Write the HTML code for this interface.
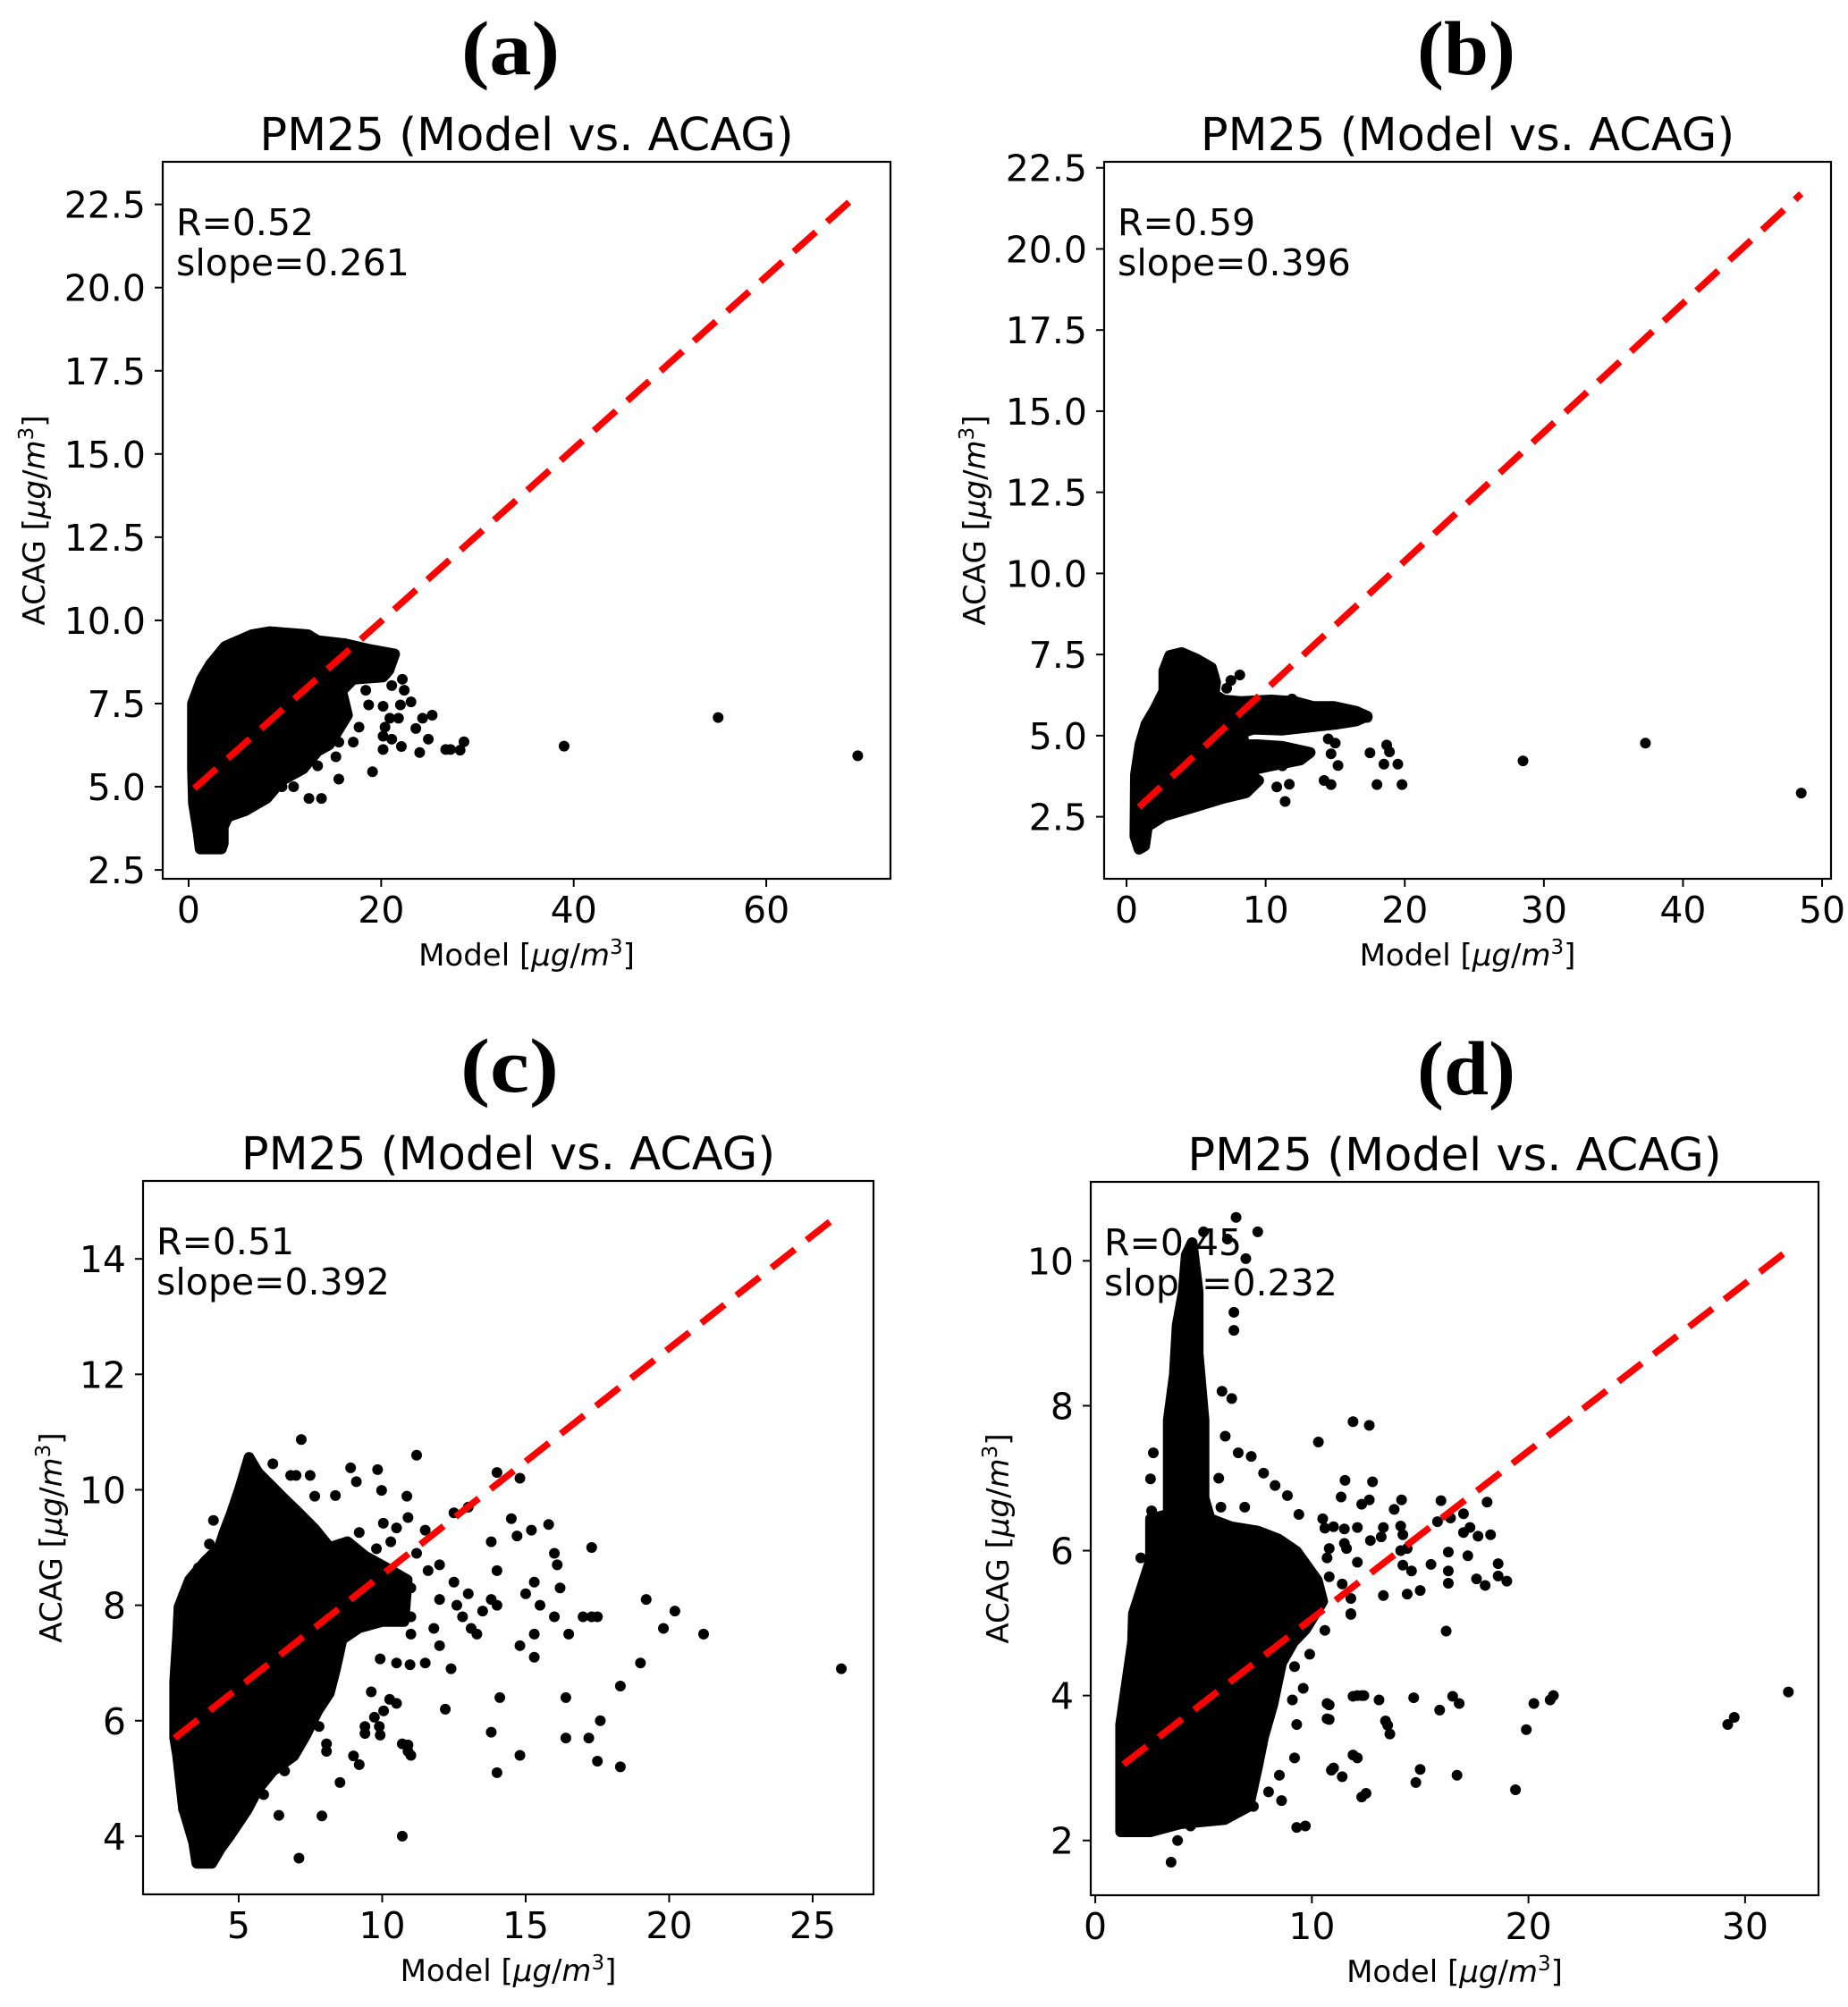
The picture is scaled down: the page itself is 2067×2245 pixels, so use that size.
<!DOCTYPE html>
<html><head><meta charset="utf-8"><style>
html,body{margin:0;padding:0;background:#fff;}
svg{display:block;font-family:"DejaVu Sans","Liberation Sans",sans-serif;}
</style></head>
<body>
<svg id="fig" width="2067" height="2245" viewBox="0 0 2067 2245" xmlns="http://www.w3.org/2000/svg"></svg>
<script>
// ---------- data (data coordinates) ----------
const panelLetters = ["(a)","(b)","(c)","(d)"];
const rValues = ["0.52","0.59","0.51","0.45"];
const slopeValues = ["0.261","0.396","0.392","0.232"];
const xTicksA = [0,20,40,60];
const yTicksA = [2.5,5.0,7.5,10.0,12.5,15.0,17.5,20.0,22.5];
const xTicksB = [0,10,20,30,40,50];
const yTicksB = [2.5,5.0,7.5,10.0,12.5,15.0,17.5,20.0,22.5];
const xTicksC = [5,10,15,20,25];
const yTicksC = [4,6,8,10,12,14];
const xTicksD = [0,10,20,30];
const yTicksD = [2,4,6,8,10];
const fitA = [[0.6,4.95],[69.5,22.8]];
const fitB = [[0.9,2.8],[48.5,21.7]];
const fitC = [[2.77,5.7],[26,14.8]];
const fitD = [[1.3,3.05],[32,10.15]];
const cloudA = [[0.5,4.5],[0.4,5.54],[0.4,7.5],[1.33,8.23],[2.26,8.68],[3.8,9.22],[6.6,9.57],[8.45,9.66],[12.4,9.57],[13.4,9.39],[16.2,9.3],[18.9,9.12],[21.4,8.99],[20.8,8.5],[20.2,8.3],[17.1,8.23],[15.9,7.88],[16.5,7.15],[14.6,6.26],[13.4,6.07],[11.9,5.54],[9.7,5.19],[8.1,4.65],[5.9,4.28],[4.1,4.1],[3.6,3.8],[3.6,3.3],[3.4,3.13],[1.2,3.13],[1.0,3.6]];
const pointsA = [[22.2,8.23],[21.1,8.04],[22.4,7.9],[18.4,7.9],[23.1,7.55],[22.0,7.46],[20.2,7.42],[18.7,7.46],[25.3,7.15],[24.3,7.06],[20.9,7.06],[21.8,7.06],[17.7,6.79],[20.4,6.79],[23.6,6.75],[24.9,6.43],[20.2,6.52],[21.1,6.43],[17.1,6.34],[15.6,6.34],[22.1,6.21],[20.2,6.12],[24.0,6.03],[26.7,6.12],[15.3,5.9],[13.4,5.63],[19.1,5.45],[15.6,5.23],[10.9,5.0],[9.7,5.0],[12.5,4.65],[13.8,4.65],[27.2,6.12],[28.2,6.1],[28.6,6.35],[39,6.22],[55,7.08],[69.5,5.93]];
const cloudB = [[0.6,1.9],[0.64,3.79],[0.96,4.72],[1.39,5.35],[2.04,5.82],[2.68,6.37],[2.68,7.0],[3.1,7.47],[3.96,7.56],[5.0,7.37],[6.1,7.1],[6.4,6.65],[6.3,6.27],[6.96,6.1],[8.2,6.05],[10.4,6.1],[12.1,6.05],[13.4,5.9],[14.9,5.9],[16.5,5.75],[17.3,5.6],[16.5,5.45],[15.0,5.35],[11.2,5.17],[9.1,5.2],[7.6,4.99],[7.9,4.72],[9.4,4.72],[11.2,4.67],[13.2,4.48],[12.5,4.25],[10.4,4.07],[8.46,3.89],[9.5,3.62],[8.6,3.24],[6.96,3.07],[4.8,2.79],[2.68,2.52],[1.5,2.2],[1.3,1.6],[0.9,1.5]];
const pointsB = [[8.14,6.87],[7.5,6.7],[7.2,6.46],[11.9,6.13],[14.7,5.9],[15,5.86],[10.0,5.3],[11.5,5.3],[14.5,4.9],[14.7,4.44],[13.1,4.44],[11.2,4.07],[14.2,3.62],[10.8,3.42],[11.7,3.5],[11.4,2.97],[8.4,4.9],[15,4.77],[15.2,4.08],[17.5,4.47],[18.7,4.71],[18.9,4.5],[18.5,4.12],[19.5,4.12],[18,3.49],[19.8,3.49],[14.7,3.49],[17.3,5.56],[28.5,4.22],[37.3,4.77],[48.5,3.23]];
const cloudC = [[2.77,5.7],[2.77,6.68],[2.87,7.46],[2.92,7.97],[3.29,8.44],[3.81,8.75],[4.32,9.0],[4.5,9.27],[4.74,9.58],[5.05,10.04],[5.36,10.56],[5.67,10.3],[6.09,10.09],[6.61,9.83],[7.03,9.63],[7.65,9.32],[8.17,9.0],[8.79,9.1],[9.41,8.85],[10.14,8.65],[10.87,8.44],[10.76,7.72],[10.0,7.72],[9.2,7.61],[8.6,7.41],[8.37,6.89],[8.16,6.48],[7.75,6.17],[7.34,5.75],[6.92,5.39],[6.19,5.13],[5.68,4.82],[5.3,4.46],[4.68,4.0],[4.37,3.79],[4.06,3.53],[3.54,3.53],[3.43,3.89],[3.12,4.41],[3.08,4.46],[2.87,5.4]];
const pointsC = [[7.18,10.87],[4.12,9.47],[3.98,9.06],[3.6,8.65],[3.08,8.18],[6.19,10.45],[6.81,10.25],[7.0,10.25],[7.49,10.25],[8.9,10.38],[9.84,10.35],[9.1,10.14],[9.98,9.99],[7.65,9.89],[8.37,9.9],[10.86,9.89],[10.9,9.52],[10.04,9.42],[10.5,9.34],[10.3,9.1],[9.2,9.26],[9.8,8.98],[9.93,7.07],[10.97,6.97],[9.62,6.5],[10.26,6.37],[10.05,6.17],[9.73,6.06],[9.4,5.9],[9.9,5.9],[9.4,5.78],[9.93,5.75],[8.06,5.47],[9.0,5.39],[9.2,5.24],[8.53,4.93],[6.4,4.36],[7.9,4.35],[10.9,5.58],[10.9,5.47],[7.8,5.9],[8.06,5.6],[6.6,5.13],[5.87,4.72],[7.1,3.62],[10.7,4.0],
 [11.2,10.6],[14,10.3],[14.8,10.2],[12.5,9.6],[13,9.7],[11.5,9.3],[12,8.7],[12.5,8.4],[13,8.2],[13.5,7.9],[11,7.8],[11,8.3],[14,8.6],[14.5,9.5],[15.2,9.3],[15.8,9.4],[16,8.9],[16.1,8.7],[14.7,9.2],[13.8,9.1],[15.3,8.4],[15,8.2],[15.5,8.0],[16.2,8.3],[16,7.8],[16.5,7.5],[17,7.8],[17.3,7.8],[17.5,7.8],[17.3,9.0],[13.8,8.1],[14,8.0],[13.3,7.5],[12.8,7.8],[12,7.3],[11,7.5],[11.5,7.0],[10.5,7.0],[10.5,6.3],[10.7,5.6],[11,5.4],[12.2,6.2],[12.4,6.9],[14.8,7.3],[15.3,7.5],[15.3,7.1],[14.1,6.4],[13.8,5.8],[14,5.1],[14.8,5.4],[16.4,6.4],[16.4,5.7],[17.2,5.7],[17.5,5.3],[17.6,6.0],[18.3,6.6],[18.3,5.2],[19,7.0],[19.2,8.1],[19.8,7.6],[20.2,7.9],[21.2,7.5],[26,6.9],[11.2,8.9],[11.6,8.6],[12.0,8.1],[11.8,7.6],[12.6,8.0],[13.1,7.6]];
const cloudD = [[1.17,2.12],[1.17,3.6],[1.72,4.74],[1.76,5.13],[2.55,5.87],[2.55,6.44],[3.37,6.5],[3.37,7.8],[3.65,8.43],[3.78,9.11],[4.06,9.57],[4.2,10.08],[4.47,10.25],[4.75,9.57],[4.75,8.72],[5.02,7.8],[5.02,6.73],[5.3,6.44],[6.26,6.33],[7.5,6.27],[8.46,6.16],[9.29,5.99],[10.25,5.59],[10.5,5.3],[9.7,4.91],[9.15,4.74],[8.6,4.45],[8.2,3.88],[7.77,3.43],[7.5,3.03],[7.09,2.47],[5.98,2.29],[3.92,2.23],[2.55,2.12]];
const pointsD = [[3.5,1.7],[3.8,2.0],[4.4,2.2],[9.7,2.2],[5,10.4],[6.5,10.6],[7.5,10.4],[6.1,10.3],[6.95,10.03],[6.4,9.29],[6.4,9.04],[5.85,8.2],[6.3,8.1],[2.68,7.35],[2.55,6.99],[2.6,6.55],[2.1,5.9],[1.88,5.1],[7.77,7.07],[8.3,6.9],[8.87,6.76],[7.2,7.3],[6.0,7.58],[6.6,7.35],[5.7,7.0],[5.8,6.6],[6.9,6.6],[9.4,6.5],[10.5,6.44],[11.0,6.33],[11.5,6.1],[11.4,5.54],[11.8,5.13],[10.6,4.9],[9.9,4.57],[9.2,4.4],[9.6,4.1],[9.1,3.94],[9.3,3.6],[9.2,3.14],[8.5,2.9],[8.0,2.67],[8.6,2.55],[9.3,2.18],[10.9,2.97],[11.4,2.88],[12.1,3.14],[10.8,3.87],[10.8,3.67],[12.1,4.0],[12.4,4.0],[12.3,2.6],[7.3,2.47],[10.3,7.5],
 [11.9,7.78],[12.65,7.73],[11.53,6.97],[12.8,6.95],[11.35,6.74],[12.65,6.7],[12.3,6.64],[14.14,6.7],[13.8,6.57],[15.96,6.69],[18.09,6.67],[16.4,6.45],[17.0,6.51],[15.8,6.4],[10.6,6.31],[11.5,6.3],[12.1,6.32],[13.3,6.32],[14.1,6.34],[17.3,6.32],[17.0,6.25],[17.67,6.2],[18.25,6.22],[13.2,6.19],[12.7,6.14],[14.2,6.22],[11.6,6.03],[10.8,6.03],[14.4,6.03],[14.1,6.0],[16.3,5.98],[17.2,5.93],[12.1,5.84],[10.7,5.9],[14.2,5.8],[14.6,5.72],[15.5,5.81],[18.6,5.82],[16.3,5.72],[18.6,5.65],[19.0,5.58],[17.6,5.61],[18.0,5.52],[16.3,5.55],[10.8,5.64],[11.8,5.34],[13.3,5.38],[14.4,5.4],[15.0,5.45],[11.8,5.12],[16.2,4.89],
 [10.7,3.89],[11.9,3.99],[12.3,4.0],[13.1,3.94],[14.7,3.97],[16.5,3.99],[16.8,3.89],[15.9,3.8],[10.7,3.68],[13.4,3.65],[13.5,3.59],[13.6,3.47],[20.25,3.89],[21.0,3.94],[21.15,4.0],[19.9,3.53],[11.9,3.18],[11.0,3.0],[15.0,2.98],[14.8,2.8],[16.7,2.9],[19.4,2.7],[12.5,2.65],[29.2,3.6],[29.5,3.7],[32,4.05]];

// ---------- layout ----------
const panels = [
 {box:[182,181,996,983], xr:[-2.69,72.9], yr:[2.234,23.78], xt:xTicksA, yt:yTicksA, dec:1, fit:fitA, cloud:cloudA, pts:pointsA, ylx:38, lab:83, lx:571},
 {box:[1235,181,2048,983], xr:[-1.61,50.64], yr:[0.588,22.685], xt:xTicksB, yt:yTicksB, dec:1, fit:fitB, cloud:cloudB, pts:pointsB, ylx:1090, lab:83, lx:1640},
 {box:[160,1321,977,2119], xr:[1.667,27.12], yr:[2.992,15.35], xt:xTicksC, yt:yTicksC, dec:0, fit:fitC, cloud:cloudC, pts:pointsC, ylx:57, lab:1221, lx:570},
 {box:[1220,1322,2034,2120], xr:[-0.21,33.39], yr:[1.244,11.09], xt:xTicksD, yt:yTicksD, dec:0, fit:fitD, cloud:cloudD, pts:pointsD, ylx:1116, lab:1224, lx:1640}
];
const NS="http://www.w3.org/2000/svg";
const svg=document.getElementById('fig');
function mk(tag,attrs,parent,text){const e=document.createElementNS(NS,tag);for(const k in attrs)e.setAttribute(k,attrs[k]);if(text!==undefined)e.textContent=text;(parent||svg).appendChild(e);return e;}
const unitHTML='[<tspan font-style="italic">μg</tspan>/<tspan font-style="italic">m</tspan><tspan font-size="23" dy="-13">3</tspan><tspan dy="13">]</tspan>';

panels.forEach((p,i)=>{
  const [L,T,R,B]=p.box;
  const sx=v=>L+(v-p.xr[0])/(p.xr[1]-p.xr[0])*(R-L);
  const sy=v=>B-(v-p.yr[0])/(p.yr[1]-p.yr[0])*(B-T);
  const g=mk('g',{});
  
  
  const cx=(L+R)/2;
  const pl=mk('text',{x:p.lx,y:p.lab,'text-anchor':'middle','font-family':'"Liberation Serif",serif','font-weight':'bold','font-size':86,textLength:110,lengthAdjust:'spacingAndGlyphs'},g,panelLetters[i]);
  
  
  const tt=mk('text',{x:cx,y:T-13,'text-anchor':'middle','font-size':51},g,'PM25 (Model vs. ACAG)');
  
  
  const cp=mk('clipPath',{id:'cp'+i},g);mk('rect',{x:L,y:T,width:R-L,height:B-T},cp);
  const plot=mk('g',{'clip-path':'url(#cp'+i+')'},g);
  const cl=mk('polygon',{points:p.cloud.map(d=>sx(d[0])+','+sy(d[1])).join(' '),fill:'#000',stroke:'#000','stroke-width':12,'stroke-linejoin':'round'},plot);
  
  
  p.pts.forEach(d=>{
    const c=mk('circle',{cx:sx(d[0]),cy:sy(d[1]),r:6,fill:'#000'},plot);
    
    
  });
  const ln=mk('line',{x1:sx(p.fit[0][0]),y1:sy(p.fit[0][1]),x2:sx(p.fit[1][0]),y2:sy(p.fit[1][1]),stroke:'#ff0000','stroke-width':7.5,'stroke-dasharray':'33 17'},plot);
  
  
  const fr=mk('rect',{x:L,y:T,width:R-L,height:B-T,fill:'none',stroke:'#000','stroke-width':2.2},g);
  
  
  p.xt.forEach(v=>{
    const x=sx(v);
    mk('line',{x1:x,y1:B,x2:x,y2:B+9,stroke:'#000','stroke-width':2},g);
    const t=mk('text',{x:x,y:B+49,'text-anchor':'middle','font-size':41},g,String(v));
    
    
  });
  p.yt.forEach(v=>{
    const y=sy(v);
    mk('line',{x1:L-9,y1:y,x2:L,y2:y,stroke:'#000','stroke-width':2},g);
    const t=mk('text',{x:L-19,y:y+15,'text-anchor':'end','font-size':41},g,v.toFixed(p.dec));
    
    
  });
  const xl=mk('text',{x:cx,y:B+97,'text-anchor':'middle','font-size':34},g);
  
  
  xl.innerHTML='Model '+unitHTML;
  const my=(T+B)/2;
  const yl=mk('text',{x:p.ylx,y:my+12,'text-anchor':'middle','font-size':34,transform:'rotate(-90 '+p.ylx+' '+my+')'},g);
  
  
  yl.innerHTML='ACAG '+unitHTML;
  const a1=mk('text',{x:L+15,y:T+82,'font-size':41},g,'R='+rValues[i]);
  
  
  const a2=mk('text',{x:L+15,y:T+127,'font-size':41},g,'slope='+slopeValues[i]);
  
  
});
</script>
</body></html>
